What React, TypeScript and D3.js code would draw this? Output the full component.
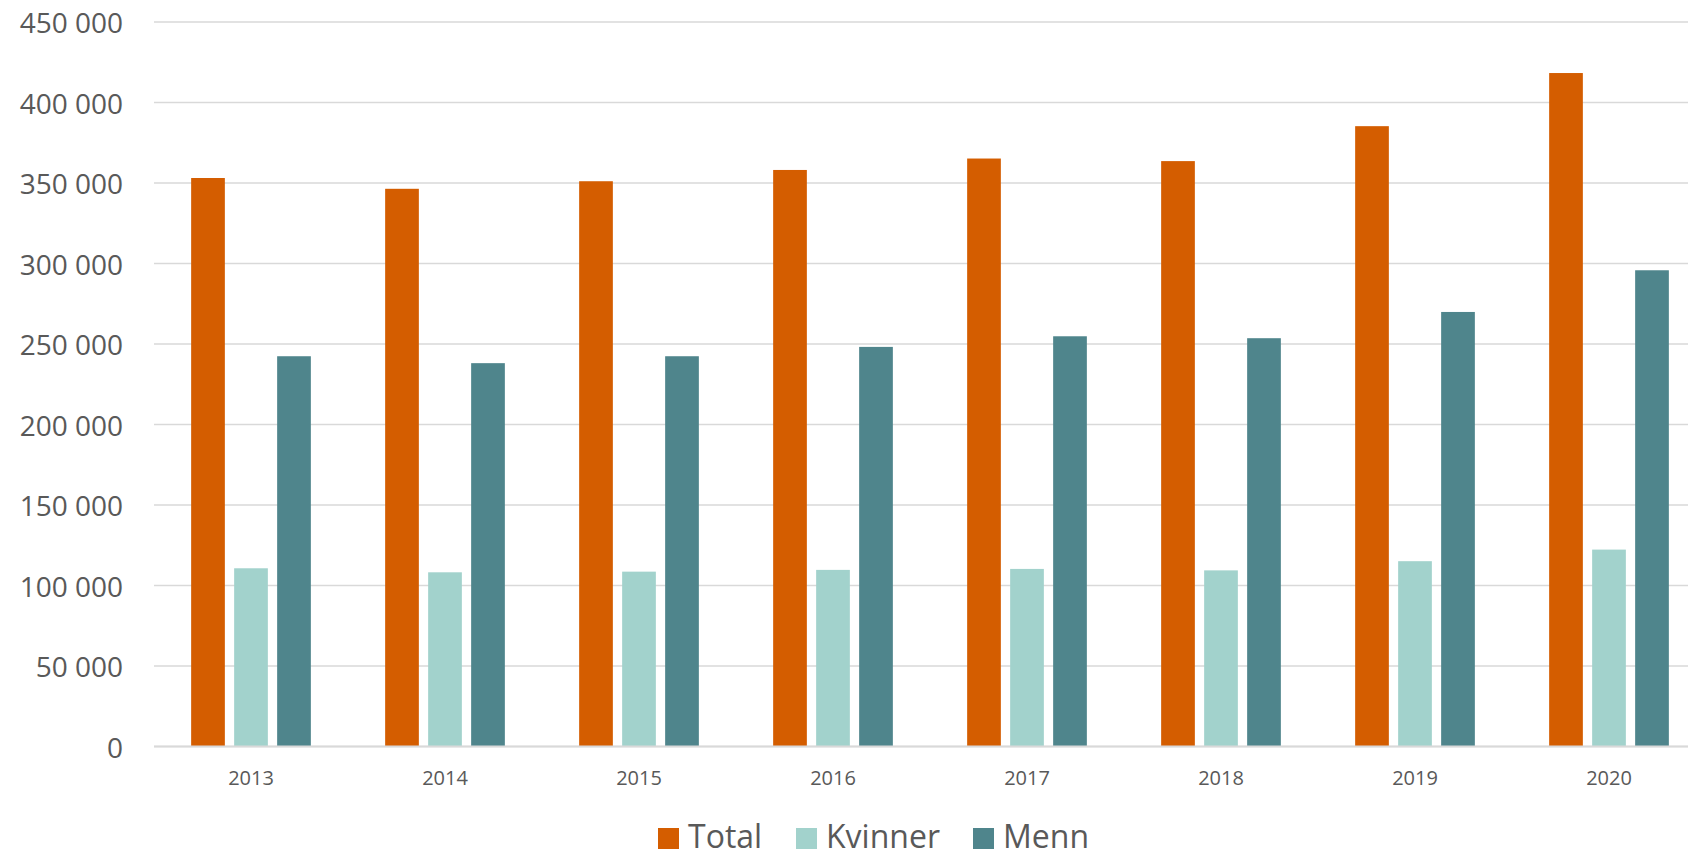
import React from "react";
import * as d3 from "d3";

const years = ["2013", "2014", "2015", "2016", "2017", "2018", "2019", "2020"];
const total = [353100, 346400, 351100, 358100, 365200, 363600, 385300, 418300];
const kvinner = [110700, 108200, 108600, 109700, 110300, 109400, 115100, 122300];
const menn = [242400, 238100, 242400, 248200, 254800, 253600, 269900, 295800];
const seriesNames = ["Total", "Kvinner", "Menn"];
const colors = ["#D45D00", "#A2D2CC", "#4F858C"];
const yTicks = [0, 50000, 100000, 150000, 200000, 250000, 300000, 350000, 400000, 450000];

const W = 1688;
const H = 856;

export default function App() {
  const x = d3.scaleBand<string>().domain(years).range([154, 1706]).padding(0);
  const y = d3.scaleLinear().domain([0, 450000]).range([746.5, 22]);
  const fmt = d3.formatLocale({ decimal: ",", thousands: " ", grouping: [3], currency: ["", ""] }).format(",d");
  const series = [total, kvinner, menn];
  const barW = 33.7;
  const barStep = 43;
  const legendX = [658, 796, 973];
  const font = "'Open Sans', sans-serif";

  return (
    <svg width={W} height={H} style={{ position: "absolute", left: 0, top: 0, background: "#fff" }} fontFamily={font}>
      {yTicks.map((t) => (
        <g key={t}>
          <line x1={154} x2={W} y1={y(t)} y2={y(t)} stroke="#D9D9D9" strokeWidth={1.6} />
          <text x={123} y={y(t)} textAnchor="end" dominantBaseline="central" fontSize={28} fill="#595959">
            {fmt(t)}
          </text>
        </g>
      ))}
      {series.map((vals, si) =>
        vals.map((v, i) => {
          const cx = (x(years[i]) as number) + x.bandwidth() / 2 + (si - 1) * barStep;
          return (
            <rect
              key={si + "-" + i}
              x={cx - barW / 2}
              y={y(v)}
              width={barW}
              height={y(0) - y(v)}
              fill={colors[si]}
            />
          );
        })
      )}
      <line x1={154} x2={W} y1={y(0)} y2={y(0)} stroke="#D9D9D9" strokeWidth={1.8} />
      {years.map((yr) => (
        <text key={yr} x={(x(yr) as number) + x.bandwidth() / 2} y={785} textAnchor="middle" fontSize={20} fill="#595959">
          {yr}
        </text>
      ))}
      {seriesNames.map((n, i) => (
        <g key={n}>
          <rect x={legendX[i]} y={828} width={21} height={21} fill={colors[i]} />
          <text x={legendX[i] + 30} y={848} fontSize={32} fill="#595959">
            {n}
          </text>
        </g>
      ))}
    </svg>
  );
}
